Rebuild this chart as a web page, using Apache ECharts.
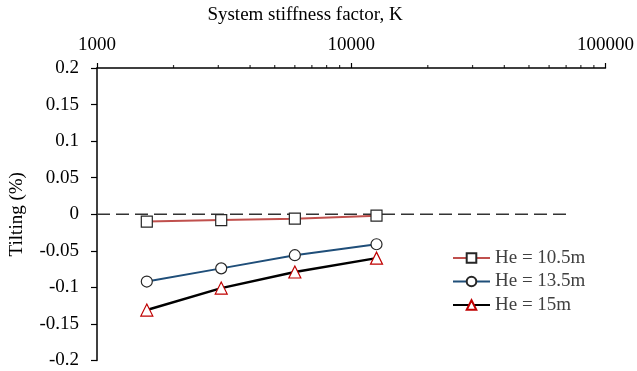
<!DOCTYPE html>
<html>
<head>
<meta charset="utf-8">
<script src="https://cdn.jsdelivr.net/npm/echarts@6/dist/echarts.min.js"></script>
<style>
    html, body {margin: 0; padding: 0; background: #fff;}
    #main {width: 637px; height: 371px;}
</style>
</head>
<body>
<div id="main"></div>
<script>
// stiffness factor K (x, log scale)
var kValues = [1570, 3080, 6000, 12570];
// tilting (%) for each excavation depth
var he105 = [-0.010, -0.008, -0.006, -0.002];
var he135 = [-0.092, -0.074, -0.056, -0.041];
var he15 = [-0.131, -0.101, -0.079, -0.060];
var seriesNames = ['He = 10.5m', 'He = 13.5m', 'He = 15m'];
// dashed zero line ends
var zeroLineK = [1000, 70000];
// minor ticks of the log axis
var minorTicks = [2000, 3000, 4000, 5000, 6000, 7000, 8000, 9000,
    20000, 30000, 40000, 50000, 60000, 70000, 80000, 90000];

var serif = 'Liberation Serif';

function pairs(xs, ys) {
    var out = [];
    for (var i = 0; i < xs.length; i++) {
        out.push([xs[i], ys[i]]);
    }
    return out;
}

var chart = echarts.init(document.getElementById('main'));

var option = {
    animation: false,
    title: {
        text: 'System stiffness factor, K',
        left: 305,
        top: 6,
        padding: 0,
        textAlign: 'center',
        textStyle: {fontFamily: serif, fontSize: 19, fontWeight: 'normal', color: '#000'}
    },
    grid: {left: 92, right: 30, top: 68, bottom: 10.5},
    legend: {
        data: seriesNames,
        orient: 'vertical',
        left: 452,
        top: 248.5,
        padding: 0,
        itemWidth: 37,
        itemHeight: 12,
        itemGap: 4.5,
        textStyle: {fontFamily: serif, fontSize: 19, color: '#404040', lineHeight: 19}
    },
    xAxis: {
        type: 'log',
        logBase: 10,
        min: 1000,
        max: 100000,
        position: 'top',
        axisLine: {onZero: false, lineStyle: {color: '#000', width: 1.5}},
        axisTick: {length: 5, lineStyle: {color: '#000', width: 1.2}},
        splitLine: {show: false},
        axisLabel: {
            margin: 13,
            fontFamily: serif,
            fontSize: 19,
            color: '#000',
            formatter: function (v) { return String(v); }
        }
    },
    yAxis: {
        type: 'value',
        min: -0.2,
        max: 0.2,
        interval: 0.05,
        name: 'Tilting (%)',
        nameLocation: 'middle',
        nameGap: 70,
        nameTextStyle: {fontFamily: serif, fontSize: 19, color: '#000'},
        axisLine: {show: true, onZero: false, lineStyle: {color: '#000', width: 1.5}},
        axisTick: {show: true, length: 6, lineStyle: {color: '#000', width: 1.2}},
        splitLine: {show: false},
        axisLabel: {margin: 18, fontFamily: serif, fontSize: 19, color: '#000'}
    },
    series: [
        {
            name: 'zero',
            type: 'line',
            data: pairs(zeroLineK, [0, 0]),
            symbol: 'none',
            silent: true,
            lineStyle: {color: '#333', width: 1.6, type: [13, 6]},
            z: 1
        },
        {
            name: 'ticks',
            type: 'scatter',
            data: pairs(minorTicks, minorTicks.map(function () { return 0.2; })),
            symbol: 'rect',
            symbolSize: [1.2, 3],
            symbolOffset: [0, -1.5],
            clip: false,
            silent: true,
            itemStyle: {color: '#000'}
        },
        {
            name: seriesNames[0],
            type: 'line',
            data: pairs(kValues, he105),
            symbol: 'rect',
            symbolSize: 11,
            lineStyle: {color: '#C0504D', width: 2},
            itemStyle: {color: '#fff', borderColor: '#262626', borderWidth: 1.2}
        },
        {
            name: seriesNames[1],
            type: 'line',
            data: pairs(kValues, he135),
            symbol: 'circle',
            symbolSize: 11,
            lineStyle: {color: '#1F4E79', width: 2},
            itemStyle: {color: '#fff', borderColor: '#262626', borderWidth: 1.2}
        },
        {
            name: seriesNames[2],
            type: 'line',
            data: pairs(kValues, he15),
            symbol: 'triangle',
            symbolSize: 12,
            lineStyle: {color: '#000', width: 2.5},
            itemStyle: {color: '#fff', borderColor: '#C00000', borderWidth: 1.2}
        }
    ]
};

chart.setOption(option);
</script>
</body>
</html>
